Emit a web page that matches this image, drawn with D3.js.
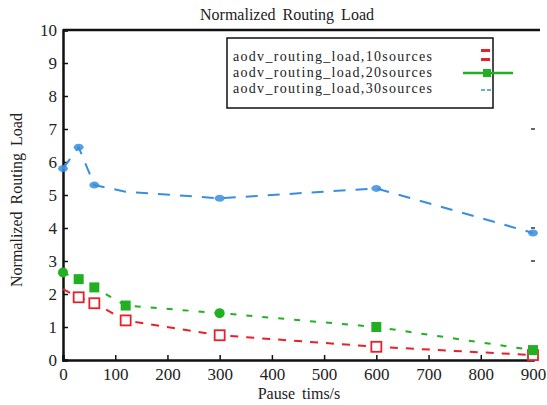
<!DOCTYPE html>
<html><head><meta charset="utf-8">
<script src="https://cdn.jsdelivr.net/npm/d3@7"></script>
<style>body{margin:0;background:#fff}svg{display:block}</style>
</head><body><svg id="c" width="547" height="405"></svg>
<script>
const pauseTimes = [0, 30, 60, 120, 300, 600, 900];
const load10 = [2.15, 1.9, 1.72, 1.2, 0.75, 0.4, 0.15];
const load20 = [2.65, 2.45, 2.2, 1.65, 1.42, 1.0, 0.3];
const load30 = [5.8, 6.45, 5.3, 5.1, 4.9, 5.2, 3.85];
const xTicks = [0,100,200,300,400,500,600,700,800,900];
const yTicks = [0,1,2,3,4,5,6,7,8,9,10];
const seriesNames = ["aodv_routing_load,10sources","aodv_routing_load,20sources","aodv_routing_load,30sources"];
const colors = ["#e8202a","#22b022","#3a8ee0"];
const FONT = "Liberation Serif";

const svg = d3.select("#c");
const x = d3.scaleLinear().domain([0,900]).range([63,533]);
const y = d3.scaleLinear().domain([0,10]).range([360,30]);

// axes
const xa = svg.append("g").attr("transform","translate(0,360)")
  .call(d3.axisBottom(x).tickValues(xTicks).tickSize(-5).tickPadding(8));
const ya = svg.append("g").attr("transform","translate(63,0)")
  .call(d3.axisLeft(y).tickValues(yTicks).tickSize(-5).tickPadding(6));
[xa,ya].forEach(a=>{
  a.attr("font-family",FONT).attr("font-size",17);
  a.select(".domain").attr("stroke","#111").attr("stroke-width",2.5);
  a.selectAll(".tick line").attr("stroke","#111").attr("stroke-width",1.5);
  a.selectAll(".tick text").attr("font-family",FONT).attr("font-size",17).attr("fill","#222");
});
// top border
svg.append("line").attr("x1",63).attr("x2",540).attr("y1",y(10)).attr("y2",y(10)).attr("stroke","#111").attr("stroke-width",2.5);
// faint right ticks
svg.selectAll(".rt").data([7,4,3]).enter().append("line")
  .attr("x1",x(900)-2).attr("x2",x(900)+2).attr("y1",d=>y(d)).attr("y2",d=>y(d)).attr("stroke","#333").attr("stroke-width",1.5);

// lines
const data = [load10, load20, load30];
const dash = ["8,8","6,10","12,10"];
const line = d3.line().x((d,i)=>x(pauseTimes[i])).y(d=>y(d));
data.forEach((s,k)=>{
  svg.append("path").datum(s).attr("d",line).attr("fill","none")
    .attr("stroke",colors[k]).attr("stroke-width",2).attr("stroke-dasharray",dash[k]);
});
// markers
svg.selectAll(".m10").data(load10).enter().append("rect")
  .attr("x",(d,i)=>x(pauseTimes[i])-5).attr("y",d=>y(d)-5).attr("width",10).attr("height",10)
  .attr("fill","#fff").attr("stroke",colors[0]).attr("stroke-width",1.8)
  .filter((d,i)=>i===0).remove();
svg.selectAll(".m20").data(load20).enter().append("rect")
  .attr("x",(d,i)=>x(pauseTimes[i])-5).attr("y",d=>y(d)-5).attr("width",10).attr("height",10)
  .attr("rx",(d,i)=>[0,4].includes(i)?5:0)
  .attr("fill",colors[1]);
svg.selectAll(".m30").data(load30).enter().append("ellipse")
  .attr("cx",(d,i)=>x(pauseTimes[i])).attr("cy",d=>y(d)).attr("rx",5).attr("ry",3.5)
  .attr("fill",colors[2]).attr("opacity",0.85)
  .filter((d,i)=>i===3).remove();

// title & labels
svg.append("text").attr("x",287).attr("y",20).attr("text-anchor","middle").attr("font-family",FONT).attr("font-size",16).attr("fill","#222").attr("word-spacing",3).text("Normalized Routing Load");
svg.append("text").attr("transform","translate(22,200) rotate(-90)").attr("text-anchor","middle").attr("font-family",FONT).attr("font-size",16).attr("fill","#222").attr("word-spacing",3).text("Normalized Routing Load");
svg.append("text").attr("x",299).attr("y",399).attr("text-anchor","middle").attr("font-family",FONT).attr("font-size",16).attr("fill","#222").attr("word-spacing",3).text("Pause tims/s");

// legend
const lg = svg.append("g");
lg.append("rect").attr("x",227).attr("y",38).attr("width",266).attr("height",70)
  .attr("fill","#fff").attr("stroke","#111").attr("stroke-width",1.5);
seriesNames.forEach((n,k)=>{
  lg.append("text").attr("x",233).attr("y",61 + k*16).attr("font-family",FONT).attr("font-size",14)
    .attr("fill","#222").attr("letter-spacing",1.3).text(n);
});
// legend samples
lg.append("rect").attr("x",481).attr("y",49).attr("width",9).attr("height",3).attr("fill",colors[0]);
lg.append("rect").attr("x",481).attr("y",58).attr("width",9).attr("height",3).attr("fill",colors[0]);
lg.append("line").attr("x1",463).attr("x2",513).attr("y1",73).attr("y2",73).attr("stroke",colors[1]).attr("stroke-width",2.5);
lg.append("rect").attr("x",483).attr("y",69).attr("width",8).attr("height",8).attr("fill",colors[1]);
lg.append("line").attr("x1",481).attr("x2",492).attr("y1",90).attr("y2",90).attr("stroke",colors[2]).attr("stroke-width",1.5).attr("stroke-dasharray","4,2");
</script></body></html>
